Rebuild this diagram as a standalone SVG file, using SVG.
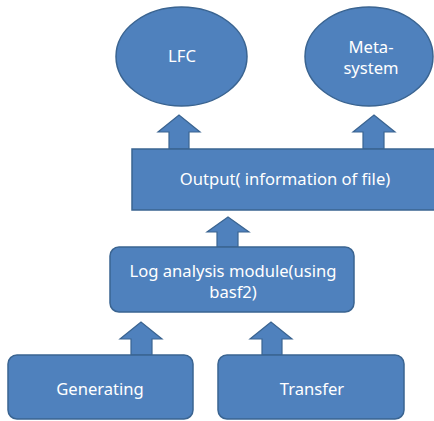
<svg xmlns="http://www.w3.org/2000/svg" width="434" height="421" viewBox="0 0 434 421">
<style>
.n{fill:#4F81BD;stroke:#3A6491;stroke-width:1.5}
.a{fill:#4F81BD;stroke:#3A6491;stroke-width:1.2}
text{font-family:"Noto Sans","Open Sans",sans-serif;font-size:16.6px;fill:#FFFFFF;text-anchor:middle}
</style>
<rect width="434" height="421" fill="#FFFFFF"/>
<g id="connectors">
<path class="a" d="M169,149 V132 H158 L179,115 L200,132 H189 V149 Z"/>
<path class="a" d="M363,149 V132 H353 L374,115 L395,132 H384 V149 Z"/>
<path class="a" d="M217,247 V232 H207 L228,217 L249,232 H238 V247 Z"/>
<path class="a" d="M131,355 V339 H120 L141,322 L162,339 H152 V355 Z"/>
<path class="a" d="M262,355 V339 H250 L271,322 L292,339 H282 V355 Z"/>
</g>
<g id="lfc">
<ellipse class="n" cx="181.5" cy="56.5" rx="65.5" ry="49.5"/>
<text x="182" y="62">LFC</text>
</g>
<g id="meta">
<ellipse class="n" cx="369" cy="56.5" rx="64" ry="49.5"/>
<text x="371" y="53">Meta-</text>
<text x="371" y="74">system</text>
</g>
<g id="output">
<rect class="n" x="132" y="149" width="310" height="61"/>
<text x="285" y="185">Output( information of file)</text>
</g>
<g id="log">
<rect class="n" x="110" y="247" width="244" height="65" rx="9"/>
<text x="233" y="277">Log analysis module(using</text>
<text x="233" y="298">basf2)</text>
</g>
<g id="generating">
<rect class="n" x="8" y="355" width="185" height="64" rx="9"/>
<text x="100" y="395">Generating</text>
</g>
<g id="transfer">
<rect class="n" x="218" y="355" width="186" height="64" rx="9"/>
<text x="312" y="395">Transfer</text>
</g>
</svg>
